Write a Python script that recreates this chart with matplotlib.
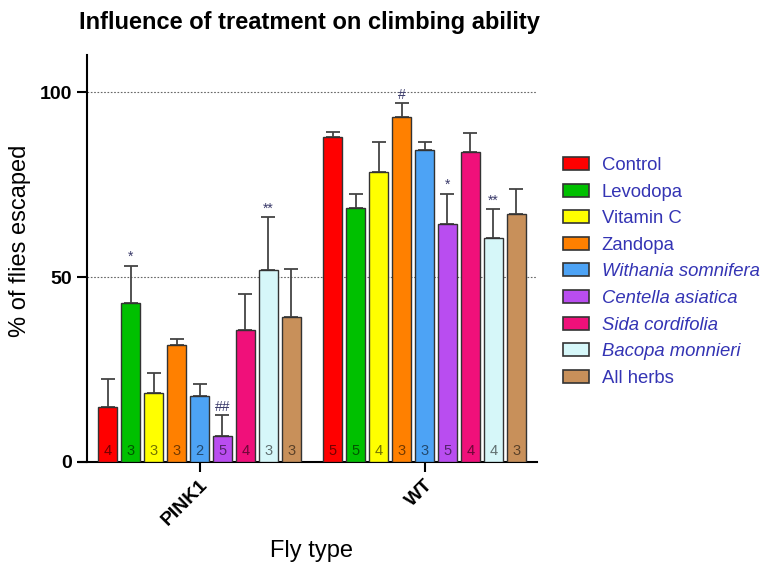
import matplotlib
matplotlib.use("Agg")
import matplotlib.pyplot as plt
from matplotlib.patches import Patch
import numpy as np

plt.rcParams['font.family'] = ['Liberation Sans', 'DejaVu Sans']

groups = ["PINK1", "WT"]
treatments = ["Control", "Levodopa", "Vitamin C", "Zandopa", "Withania somnifera",
              "Centella asiatica", "Sida cordifolia", "Bacopa monnieri", "All herbs"]
italic_labels = [False, False, False, False, True, True, True, True, False]
colors = ["#ff0000", "#00c000", "#ffff00", "#ff8000", "#4da3f5",
          "#b94df0", "#f0107a", "#d6f7f9", "#c8905a"]

pink1_means = [14.9, 42.9, 18.6, 31.5, 17.8, 7.0, 35.8, 51.8, 39.1]
pink1_err = [7.5, 10.2, 5.5, 1.8, 3.3, 5.6, 9.5, 14.4, 13.1]
wt_means = [87.9, 68.6, 78.5, 93.3, 84.3, 64.2, 83.8, 60.6, 67.1]
wt_err = [1.3, 3.7, 8.0, 3.6, 2.2, 8.3, 5.2, 7.7, 6.8]
pink1_n = [4, 3, 3, 3, 2, 5, 4, 3, 3]
wt_n = [5, 5, 4, 3, 3, 5, 4, 4, 3]
pink1_sig = ["", "*", "", "", "", "##", "", "**", ""]
wt_sig = ["", "", "", "#", "", "*", "", "**", ""]

means = [pink1_means, wt_means]
errs = [pink1_err, wt_err]
ns = [pink1_n, wt_n]
sigs = [pink1_sig, wt_sig]

fig = plt.figure(figsize=(7.66, 5.64), dpi=100)
ax = fig.add_axes([87/766, 1-462/564, (537-87)/766, (462-55)/564])

group_gap = 9.8
nt = len(treatments)
width = 0.83
for g in range(len(groups)):
    x = np.arange(nt) + g*group_gap
    ax.bar(x, means[g], width=width, color=colors, edgecolor="#333333",
           linewidth=1.0, zorder=3)
    ax.errorbar(x, means[g], yerr=[np.zeros(nt), errs[g]], fmt="none",
                ecolor="#444444", elinewidth=1.3, capsize=5, capthick=1.3, zorder=2)
    for i in range(nt):
        ax.text(x[i], 1.2, str(ns[g][i]), ha="center", va="bottom", fontsize=10.5,
                color="black", alpha=0.55, zorder=4)
        if sigs[g][i]:
            ax.text(x[i], means[g][i] + errs[g][i] + 0.4, sigs[g][i], ha="center",
                    va="bottom", fontsize=10, color="#3a3a6a", zorder=4)

ax.set_ylim(0, 110)
ax.set_xlim(-0.9, nt - 1 + group_gap + 0.9)
for yv in [50, 100]:
    ax.axhline(yv, color="#666666", linestyle=(0, (1.5, 1.5)), linewidth=0.8, zorder=1)

ax.set_yticks([0, 50, 100])
ax.set_yticklabels(["0", "50", "100"], fontsize=14, fontweight="bold")
centers = [(nt - 1)/2 + g*group_gap for g in range(len(groups))]
ax.set_xticks(centers)
ax.set_xticklabels(groups, rotation=45, ha="right", rotation_mode="anchor",
                   fontsize=14, fontweight="bold")
ax.tick_params(axis="both", direction="out", length=7, width=1.5)
for s in ["top", "right"]:
    ax.spines[s].set_visible(False)
ax.spines["left"].set_linewidth(1.5)
ax.spines["bottom"].set_linewidth(1.5)
ax.spines["bottom"].set_bounds(-0.9 - 0.35, nt - 1 + group_gap + 0.9)

ax.set_ylabel("% of flies escaped", fontsize=17)
ax.yaxis.set_label_coords(-0.125, (462-241)/407)
ax.set_xlabel("Fly type", fontsize=17, labelpad=8)

fig.text(309/766, 1-22/564, "Influence of treatment on climbing ability",
         ha="center", va="center", fontsize=17, fontweight="bold")

handles = [Patch(facecolor=c, edgecolor="#333333", linewidth=1.2) for c in colors]
leg = fig.legend(handles, treatments, loc="upper left",
                 bbox_to_anchor=(563/766, 1-157/564), frameon=False,
                 fontsize=13.3, handlelength=1.4, handleheight=0.7,
                 handletextpad=0.7, labelspacing=0.52, borderpad=0, borderaxespad=0)
for t, it in zip(leg.get_texts(), italic_labels):
    t.set_color("#3434b4")
    if it:
        t.set_fontstyle("italic")

fig.savefig("out.png", dpi=100)
